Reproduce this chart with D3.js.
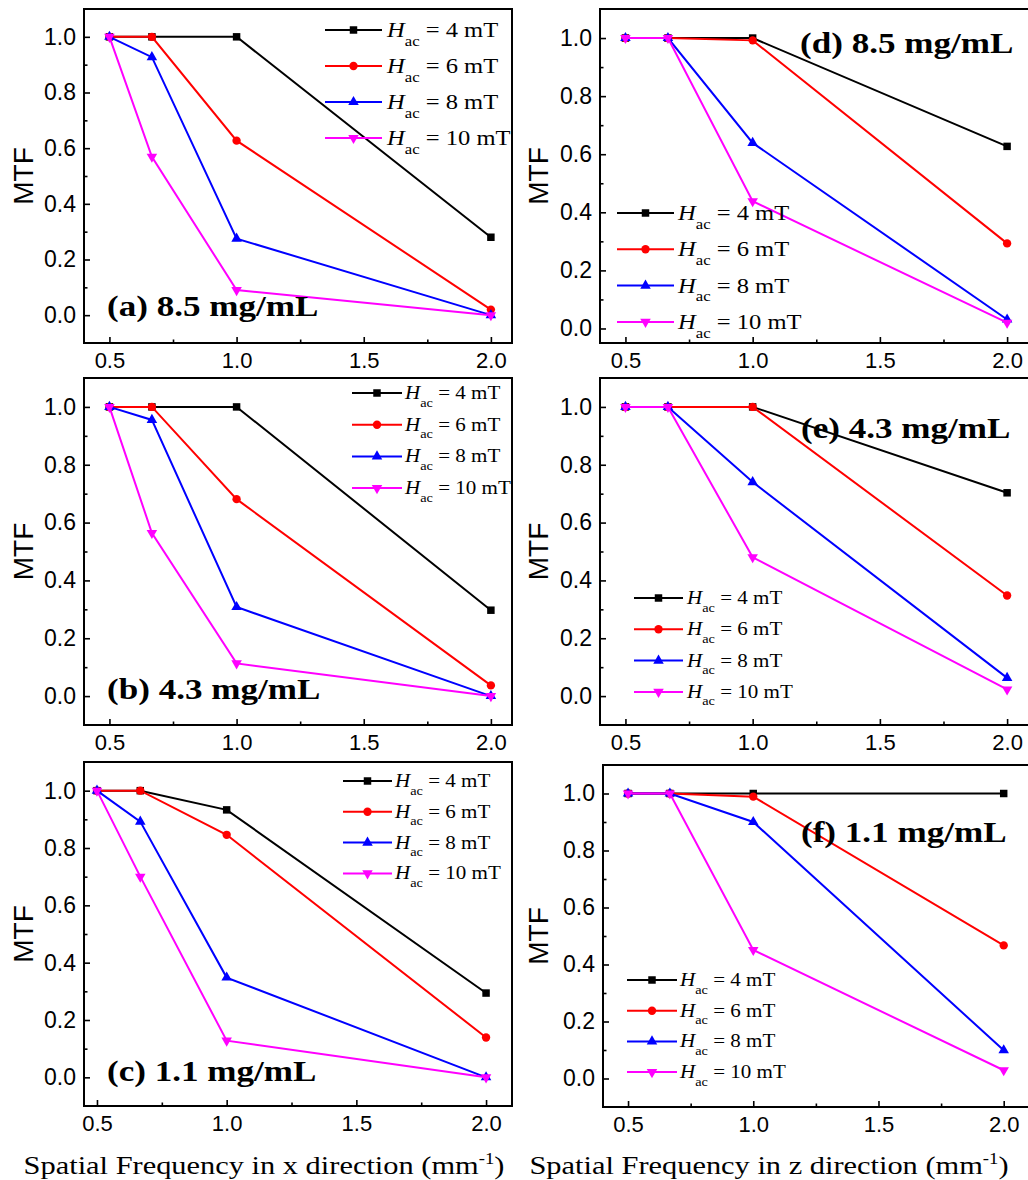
<!DOCTYPE html>
<html>
<head>
<meta charset="utf-8">
<script src="https://cdn.jsdelivr.net/npm/d3@7"></script>
<style>
  body { margin: 0; background: #fff; }
</style>
</head>
<body>
<script>
// spatial frequencies (mm^-1) shared by every panel
var freq = [0.5, 0.667, 1.0, 2.0];
var fieldLabels = ["4 mT", "6 mT", "8 mT", "10 mT"];
var xTicks = [0.5, 1.0, 1.5, 2.0];
var xMinor = [0.75, 1.25, 1.75];
var yTicks = [0.0, 0.2, 0.4, 0.6, 0.8, 1.0];
var yMinor = [0.1, 0.3, 0.5, 0.7, 0.9];
var panelTags = ["(a) 8.5 mg/mL", "(b) 4.3 mg/mL", "(c) 1.1 mg/mL",
                 "(d) 8.5 mg/mL", "(e) 4.3 mg/mL", "(f) 1.1 mg/mL"];
var directions = ["x", "z"];

// MTF, one row per field: 4, 6, 8, 10 mT
var mtfA = [[1, 1, 1, 0.28], [1, 1, 0.627, 0.02], [1, 0.927, 0.275, 0], [1, 0.569, 0.09, 0]];
var mtfB = [[1, 1, 1, 0.297], [1, 1, 0.681, 0.037], [1, 0.955, 0.308, 0], [1, 0.564, 0.113, 0]];
var mtfC = [[1, 1, 0.933, 0.294], [1, 1, 0.846, 0.139], [1, 0.892, 0.348, 0], [1, 0.70, 0.128, 0]];
var mtfD = [[1, 1, 1, 0.627], [1, 1, 0.992, 0.293], [1, 1, 0.639, 0.031], [1, 1, 0.438, 0.02]];
var mtfE = [[1, 1, 1, 0.703], [1, 1, 1, 0.348], [1, 1, 0.74, 0.063], [1, 1, 0.48, 0.023]];
var mtfF = [[1, 1, 1, 1], [1, 1, 0.989, 0.467], [1, 1, 0.9, 0.099], [1, 1, 0.451, 0.029]];

var colors = ["#000000", "#ff0000", "#0000ff", "#ff00ff"];
var symbols = [d3.symbolSquare, d3.symbolCircle, d3.symbolTriangle, d3.symbolTriangle];
var symSize = [56, 55, 48, 48];
var symRot = [0, 0, 0, 180];

var serif = "'Liberation Serif', 'Times New Roman', serif";
var sans = "'Liberation Sans', Arial, sans-serif";
var stretch = 1.17; // serif text in the figure is drawn wide

// box: [left, top, right, bottom]; leg: [lineX0, lineX1, textX, firstRowY, rowStep, fontSize]
var panels = [
  {data: mtfA, box: [84, 9, 512, 343], xd: [0.4, 2.083], yd: [-0.1, 1.1], leg: [325, 382, 387, 30, 36, 21], tag: [107, 316], col: 0},
  {data: mtfB, box: [84, 378, 512, 725], xd: [0.4, 2.083], yd: [-0.1, 1.1], leg: [352, 402, 405, 393, 31.7, 18], tag: [107, 699], col: 0},
  {data: mtfC, box: [84, 762, 512, 1106], xd: [0.45, 2.1], yd: [-0.1, 1.1], leg: [343, 392, 395, 781, 30.8, 18], tag: [107, 1081], col: 0},
  {data: mtfD, box: [600, 9, 1030, 343], xd: [0.4, 2.09], yd: [-0.05, 1.1], leg: [617, 674, 678, 213, 36.3, 21], tag: [800, 53], col: 1},
  {data: mtfE, box: [600, 378, 1030, 725], xd: [0.4, 2.09], yd: [-0.1, 1.1], leg: [634, 683, 687, 598, 31.3, 18], tag: [801, 438], col: 1},
  {data: mtfF, box: [603, 765, 1030, 1107], xd: [0.4, 2.105], yd: [-0.1, 1.1], leg: [627, 677, 680, 980, 30.7, 18], tag: [801, 842], col: 1}
];

var svg = d3.select("body").append("svg")
  .attr("width", 1028)
  .attr("height", 1180);

function styleAxis(sel) {
  sel.attr("font-family", sans).attr("font-size", 22);
  sel.select(".domain").remove();
  sel.selectAll("line").attr("stroke", "#000").attr("stroke-width", 1.6);
  sel.selectAll("text").attr("fill", "#000");
}

panels.forEach(function(p, pi) {
  var left = p.box[0], top = p.box[1], right = p.box[2], bottom = p.box[3];
  var x = d3.scaleLinear().domain(p.xd).range([left, right]);
  var y = d3.scaleLinear().domain(p.yd).range([bottom, top]);
  var g = svg.append("g");

  // inward ticks, major and minor
  g.append("g").attr("transform", "translate(0," + bottom + ")")
    .call(d3.axisBottom(x).tickValues(xTicks).tickSize(-6).tickPadding(9).tickFormat(d3.format(".1f")))
    .call(styleAxis);
  g.append("g").attr("transform", "translate(0," + bottom + ")")
    .call(d3.axisBottom(x).tickValues(xMinor).tickSize(-3.5).tickFormat(""))
    .call(styleAxis);
  g.append("g").attr("transform", "translate(" + left + ",0)")
    .call(d3.axisLeft(y).tickValues(yTicks).tickSize(-6).tickPadding(8).tickFormat(d3.format(".1f")))
    .call(styleAxis)
    .call(function(a) { a.selectAll("text").attr("font-size", 23); });
  g.append("g").attr("transform", "translate(" + left + ",0)")
    .call(d3.axisLeft(y).tickValues(yMinor).tickSize(-3.5).tickFormat(""))
    .call(styleAxis);

  g.append("rect")
    .attr("x", left).attr("y", top)
    .attr("width", right - left).attr("height", bottom - top)
    .attr("fill", "none").attr("stroke", "#000").attr("stroke-width", 2);

  // y label
  g.append("text")
    .attr("transform", "translate(" + (p.col === 0 ? 33 : 548) + "," + (top + bottom) / 2 + ") rotate(-90)")
    .attr("text-anchor", "middle")
    .attr("font-family", sans).attr("font-size", 28)
    .text("MTF");

  var line = d3.line().x(function(d, i) { return x(freq[i]); }).y(function(d) { return y(d); });

  p.data.forEach(function(s, si) {
    g.append("path")
      .attr("d", line(s))
      .attr("fill", "none")
      .attr("stroke", colors[si])
      .attr("stroke-width", 2);
    g.selectAll(null)
      .data(s)
      .enter()
      .append("path")
      .attr("d", d3.symbol().type(symbols[si]).size(symSize[si]))
      .attr("transform", function(d, i) { return "translate(" + x(freq[i]) + "," + y(d) + ") rotate(" + symRot[si] + ")"; })
      .attr("fill", colors[si]);
  });

  // legend
  var lg = p.leg;
  fieldLabels.forEach(function(lab, si) {
    var ry = lg[3] + si * lg[4];
    g.append("line")
      .attr("x1", lg[0]).attr("x2", lg[1]).attr("y1", ry).attr("y2", ry)
      .attr("stroke", colors[si]).attr("stroke-width", 2);
    g.append("path")
      .attr("d", d3.symbol().type(symbols[si]).size(symSize[si]))
      .attr("transform", "translate(" + (lg[0] + lg[1]) / 2 + "," + ry + ") rotate(" + symRot[si] + ")")
      .attr("fill", colors[si]);
    var t = g.append("text")
      .attr("transform", "translate(" + lg[2] + "," + (ry + lg[5] * 0.33) + ") scale(" + stretch + ",1)")
      .attr("font-family", serif).attr("font-size", lg[5]);
    t.append("tspan").attr("font-style", "italic").text("H");
    t.append("tspan").attr("font-size", lg[5] * 0.68).attr("dy", lg[5] * 0.42).text("ac");
    t.append("tspan").attr("dy", -lg[5] * 0.42).text(" = " + lab);
  });

  // panel tag
  g.append("text")
    .attr("transform", "translate(" + p.tag[0] + "," + p.tag[1] + ") scale(" + stretch + ",1)")
    .attr("font-family", serif).attr("font-size", 30).attr("font-weight", "bold")
    .text(panelTags[pi]);
});

// x axis titles
directions.forEach(function(dir, i) {
  var t = svg.append("text")
    .attr("transform", "translate(" + (i === 0 ? 264 : 769) + ",1174) scale(" + stretch + ",1)")
    .attr("text-anchor", "middle")
    .attr("font-family", serif).attr("font-size", 26);
  t.append("tspan").text("Spatial Frequency in " + dir + " direction (mm");
  t.append("tspan").attr("font-size", 16).attr("dy", -10).text("-1");
  t.append("tspan").attr("dy", 10).text(")");
});
</script>
</body>
</html>
